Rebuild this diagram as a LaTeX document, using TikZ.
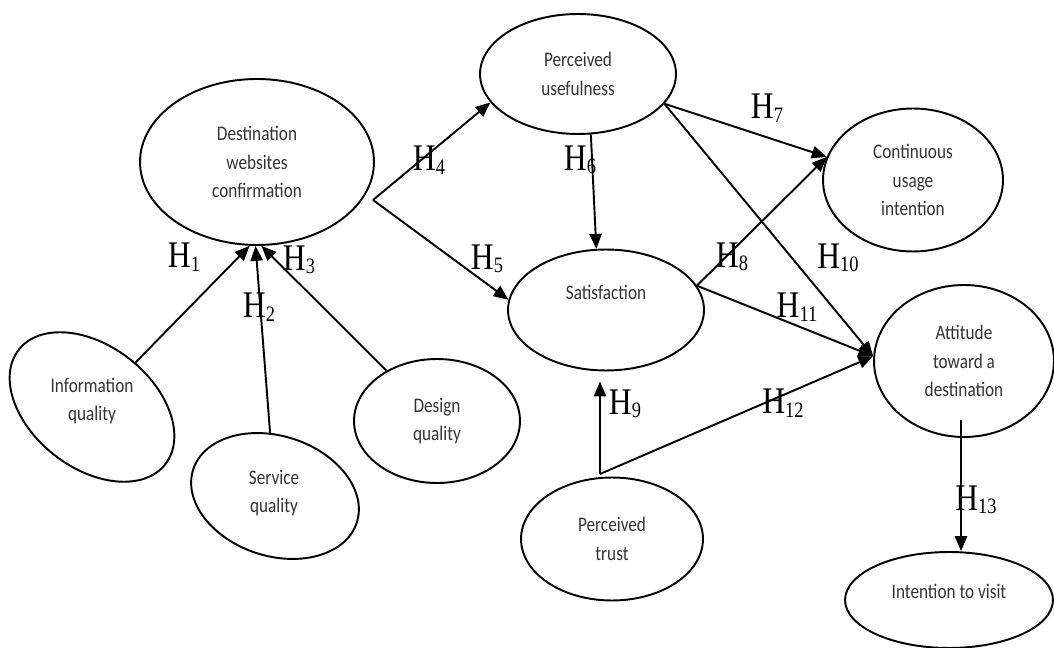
\documentclass[tikz,border=0pt]{standalone}
\usepackage{fontspec}
\setmainfont{Liberation Serif}
\newfontfamily\ovalfont[FakeStretch=0.83]{Carlito}
\newfontfamily\hfont[FakeStretch=0.84]{Liberation Serif}
\usepackage{tikz}
\usetikzlibrary{shapes.geometric, arrows.meta, positioning, calc}

\newcommand{\hypo}[1]{H\raisebox{-2pt}{\fontsize{12.5}{12.5}\selectfont #1}}

\begin{document}
\begin{tikzpicture}[x=0.02cm, y=-0.02cm,
    ovaltext/.style={align=center, inner sep=0pt, text=black!80,
        font=\ovalfont\fontsize{11.8}{16.4}\selectfont},
    construct/.style={ovaltext, draw, ellipse, line width=1.1pt},
    hyp/.style={inner sep=0pt, font=\hfont\fontsize{21.4}{22}\selectfont},
    effect/.style={line width=1.1pt, -{Triangle[length=8.5pt, width=7pt]}}]
\useasboundingbox (0,0) rectangle (1054,648);

% Website quality
\node[construct, minimum width=3.72cm, minimum height=2.44cm, rotate=-38] (iq) at (92,407) {};
\node[ovaltext] (iqtext) at (92,401) {Information\\quality};
\node[construct, minimum width=3.44cm, minimum height=2.4cm, rotate=-18] (sq) at (275,496) {};
\node[ovaltext] (sqtext) at (274,493) {Service\\quality};
\node[construct, minimum width=3.32cm, minimum height=2.48cm] (dq) at (437,421) {Design\\quality};
\node[construct, minimum width=4.68cm, minimum height=3.32cm] (dwc) at (257,162) {Destination\\websites\\confirmation};

% Middle constructs
\node[construct, minimum width=3.92cm, minimum height=2.4cm] (pu) at (578,74) {Perceived\\usefulness};
\node[construct, minimum width=3.92cm, minimum height=2.42cm] (sat) at (606,310) {\raisebox{10pt}[\height][\depth]{Satisfaction}};
\node[construct, minimum width=3.64cm, minimum height=2.46cm] (pt) at (612,539) {Perceived\\trust};

% Outcomes
\node[construct, minimum width=3.6cm, minimum height=2.86cm] (cui) at (913,180) {Continuous\\usage\\intention};
\node[construct, minimum width=3.6cm, minimum height=3.04cm] (att) at (964,361) {Attitude\\toward a\\destination};
\node[construct, minimum width=4.16cm, minimum height=1.92cm] (itv) at (949,600) {\raisebox{5pt}[\height][\depth]{Intention to visit}};

% Paths
\coordinate (dsplit) at (373,200);
\coordinate (tsplit) at (600,474);
\coordinate (afoot) at (961,420);
\draw[effect] (iq) -- (dwc.-95);
\draw[effect] (sq) -- (dwc.-91);
\draw[effect] (dq) -- (dwc.-87);
\draw[effect] (dsplit) -- (pu.198);
\draw[effect] (dsplit) -- (sat.174);
\draw[effect] (pu.-78) -- (sat.99);
\draw[effect] (pu.-19) -- (cui.165);
\draw[effect] (pu.-19) -- (att.177);
\draw[effect] (sat.15) -- (cui.165);
\draw[effect] (sat.15) -- (att.177);
\draw[effect, shorten >=0.2cm] (tsplit) -- (tsplit |- sat.south);
\draw[effect] (tsplit) -- (att.177);
\draw[effect] (afoot) -- (afoot |- itv.north);

% Hypotheses
\node[hyp] (h1) at (184,257) {\hypo{1}};
\node[hyp] (h2) at (259,307) {\hypo{2}};
\node[hyp] (h3) at (299,260) {\hypo{3}};
\node[hyp] (h4) at (429,160) {\hypo{4}};
\node[hyp] (h5) at (487,259) {\hypo{5}};
\node[hyp] (h6) at (580,160) {\hypo{6}};
\node[hyp] (h7) at (767,108) {\hypo{7}};
\node[hyp] (h8) at (732,257) {\hypo{8}};
\node[hyp] (h9) at (625,404) {\hypo{9}};
\node[hyp] (h10) at (838,258) {\hypo{10}};
\node[hyp] (h11) at (797,307) {\hypo{11}};
\node[hyp] (h12) at (783,403) {\hypo{12}};
\node[hyp] (h13) at (976,500) {\hypo{13}};
\end{tikzpicture}
\end{document}
